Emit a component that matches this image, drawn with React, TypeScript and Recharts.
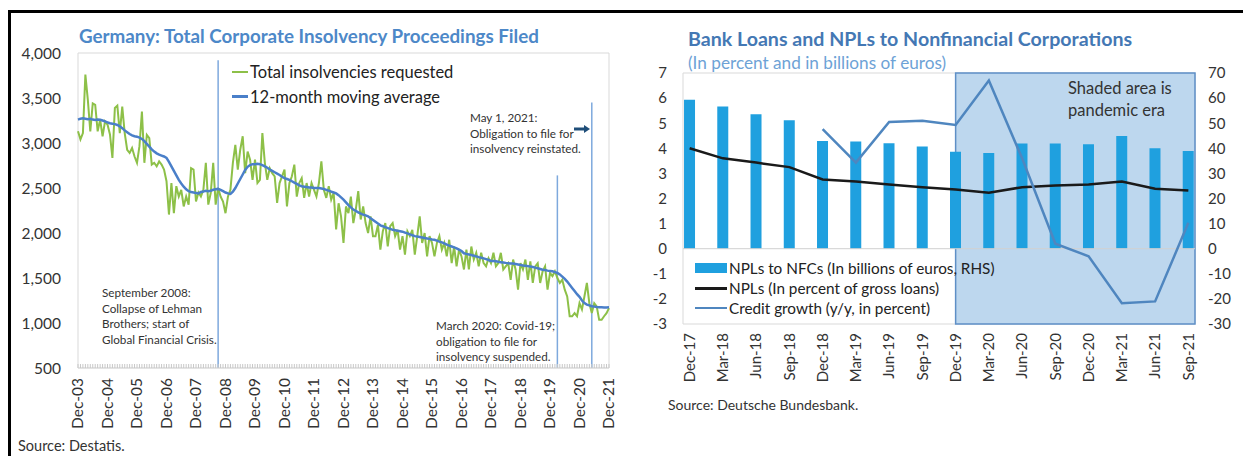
import React from "react";
import {
  Bar,
  ComposedChart,
  Line,
  LineChart,
  ReferenceArea,
  ReferenceLine,
  XAxis,
  YAxis,
} from "recharts";

const FONT = "Lato, 'Noto Sans', sans-serif";

// ---- left chart: insolvencies (monthly, Dec-03 .. Dec-21) ----
const insolvencyTickLabels = [
  "Dec-03", "Dec-04", "Dec-05", "Dec-06", "Dec-07", "Dec-08", "Dec-09", "Dec-10", "Dec-11", "Dec-12",
  "Dec-13", "Dec-14", "Dec-15", "Dec-16", "Dec-17", "Dec-18", "Dec-19", "Dec-20", "Dec-21",
];
const insolvencyTicks = [0, 12, 24, 36, 48, 60, 72, 84, 96, 108, 120, 132, 144, 156, 168, 180, 192, 204, 216];
const insolvencyAxisTicks = [500, 1000, 1500, 2000, 2500, 3000, 3500, 4000];

const insolvenciesRequested = [
  3130,
  3040, 3110, 3760, 3480, 3130, 3440, 3425, 3130, 3260, 3075, 3240, 3205, // 2004
  3095, 2835, 3390, 3415, 3110, 3405, 3110, 2925, 2890, 2945, 2850, 2780, // 2005
  2965, 3350, 2780, 3090, 3055, 2760, 2780, 2740, 2795, 2760, 2705, 2575, // 2006
  2205, 2555, 2220, 2520, 2405, 2480, 2295, 2405, 2315, 2720, 2705, 2350, // 2007
  2450, 2405, 2480, 2780, 2315, 2445, 2780, 2315, 2500, 2405, 2350, 2220, // 2008
  2405, 2480, 2780, 2980, 2705, 2925, 3075, 2665, 2905, 2815, 2590, 2815, // 2009
  2555, 2590, 3110, 2780, 2590, 2720, 2665, 2630, 2335, 2555, 2630, 2705, // 2010
  2295, 2555, 2630, 2760, 2405, 2555, 2610, 2390, 2555, 2405, 2555, 2480, // 2011
  2405, 2555, 2795, 2480, 2390, 2520, 2370, 2445, 2040, 2330, 2185, 1890, // 2012
  2295, 2220, 2405, 2110, 2260, 2465, 2150, 2295, 2110, 2000, 2185, 1965, // 2013
  1965, 2090, 1815, 2020, 2110, 1850, 2075, 2110, 1965, 2035, 1815, 1965, // 2014
  1760, 2020, 1965, 2035, 1760, 1965, 2185, 1890, 2000, 1740, 1965, 1890, // 2015
  1740, 1890, 1965, 1815, 1890, 1740, 1925, 1665, 1850, 1630, 1815, 1740, // 2016
  1595, 1815, 1595, 1850, 1705, 1780, 1630, 1780, 1665, 1630, 1720, 1665, // 2017
  1780, 1630, 1665, 1780, 1595, 1630, 1665, 1480, 1705, 1595, 1370, 1665, // 2018
  1595, 1705, 1480, 1685, 1445, 1630, 1665, 1445, 1575, 1630, 1370, 1555, // 2019
  1520, 1575, 1500, 1445, 1480, 1370, 1295, 1075, 1075, 1110, 1075, 1220, // 2020
  1150, 1295, 1445, 1220, 1110, 1220, 1185, 1035, 1035, 1075, 1110, 1165, // 2021
];

const movingAverage = [
  3260,
  3270, 3275, 3270, 3265, 3268, 3260, 3255, 3262, 3258, 3250, 3240, 3230,
  3220, 3215, 3210, 3200, 3185, 3165, 3140, 3120, 3100, 3085, 3075, 3070,
  3060, 3045, 3020, 2990, 2960, 2930, 2905, 2885, 2870, 2860, 2850, 2835,
  2790, 2740, 2690, 2640, 2590, 2550, 2515, 2485, 2465, 2455, 2450, 2445,
  2440, 2455, 2460, 2470, 2465, 2470, 2480, 2485, 2490, 2480, 2465, 2450,
  2440, 2435, 2460, 2500, 2550, 2600, 2650, 2700, 2735, 2755, 2765, 2765,
  2768, 2765, 2755, 2740, 2725, 2705, 2690, 2675, 2660, 2645, 2625, 2610,
  2600, 2590, 2575, 2560, 2545, 2530, 2520, 2515, 2510, 2505, 2505, 2500,
  2500, 2500, 2495, 2490, 2480, 2470, 2460, 2450, 2440, 2420, 2395, 2370,
  2340, 2310, 2285, 2260, 2245, 2230, 2215, 2205, 2195, 2185, 2165, 2145,
  2125, 2105, 2085, 2075, 2065, 2055, 2045, 2035, 2030, 2025, 2020, 2015,
  2005, 1995, 1985, 1975, 1965, 1960, 1955, 1950, 1945, 1940, 1935, 1928,
  1925, 1915, 1905, 1895, 1885, 1870, 1860, 1850, 1840, 1830, 1815, 1800,
  1775, 1768, 1762, 1755, 1748, 1740, 1732, 1725, 1718, 1710, 1700, 1690,
  1688, 1685, 1680, 1676, 1672, 1668, 1665, 1662, 1660, 1655, 1650, 1645,
  1640, 1636, 1632, 1628, 1622, 1615, 1608, 1600, 1592, 1588, 1582, 1578,
  1574, 1565, 1556, 1540, 1515, 1490, 1460, 1425, 1390, 1355, 1320, 1290,
  1250, 1222, 1205, 1195, 1185, 1182, 1178, 1175, 1174, 1173, 1173, 1174,
];

// event markers: month index and top of the marker line
const eventMarkers = [
  { month: 57, top: 3920 }, // Sep 2008
  { month: 195, top: 2640 }, // Mar 2020
  { month: 209, top: 3450 }, // May 2021
];

// ---- right chart: bank loans and NPLs (quarterly) ----
const quarters = [
  "Dec-17", "Mar-18", "Jun-18", "Sep-18", "Dec-18", "Mar-19", "Jun-19", "Sep-19",
  "Dec-19", "Mar-20", "Jun-20", "Sep-20", "Dec-20", "Mar-21", "Jun-21", "Sep-21",
];
const nplBillions = [59.3, 56.7, 53.6, 51.2, 42.9, 42.7, 42.0, 40.7, 38.6, 38.1, 41.9, 41.9, 41.6, 44.9, 40.0, 38.9];
const nplPercent = [4.0, 3.6, 3.43, 3.25, 2.76, 2.68, 2.56, 2.45, 2.36, 2.23, 2.45, 2.52, 2.56, 2.68, 2.39, 2.32];
const creditGrowth = [null, null, null, null, 47.6, 34.3, 50.5, 51.0, 49.3, 67.0, 36.0, 2.0, -3.0, -21.7, -21.0, 10.3];
const leftAxisTicks = [-3, -2, -1, 0, 1, 2, 3, 4, 5, 6, 7];
const rightAxisTicks = [-30, -20, -10, 0, 10, 20, 30, 40, 50, 60, 70];

const insolvencyData = insolvenciesRequested.map((v, i) => ({ i, total: v, avg: movingAverage[i] }));
const monthTicks = insolvenciesRequested.map((_, i) => i);
const bankData = quarters.map((q, i) => ({
  i,
  q,
  npl: nplBillions[i],
  pct: nplPercent[i],
  credit: creditGrowth[i],
}));

const GREEN = "#8dc048";
const MA_BLUE = "#4a7fc9";
const BAR_BLUE = "#1fa0df";
const CREDIT_BLUE = "#4f86bf";

const InsolvencyTick = (props: any) => {
  const { x, payload } = props;
  const idx = insolvencyTicks.indexOf(payload.value);
  if (idx < 0) return <g />;
  return (
    <text
      transform={`translate(${x},378) rotate(-90)`}
      textAnchor="end"
      dy="0.35em"
      fontSize={15.5}
      fill="#333"
      fontFamily={FONT}
    >
      {insolvencyTickLabels[idx]}
    </text>
  );
};

const QuarterTick = (props: any) => {
  const { x, payload } = props;
  return (
    <text
      transform={`translate(${x},333) rotate(-90)`}
      textAnchor="end"
      dy="0.35em"
      fontSize={15}
      fill="#333"
      fontFamily={FONT}
    >
      {quarters[payload.value]}
    </text>
  );
};

const abs = (left: number, top: number, extra: React.CSSProperties = {}): React.CSSProperties => ({
  position: "absolute",
  left,
  top,
  whiteSpace: "nowrap",
  ...extra,
});

const note: React.CSSProperties = { fontSize: 11.7, lineHeight: "15.5px", color: "#333" };

const InsolvencyChart = () => (
  <div style={abs(0, 0, { width: 620, height: 456 })}>
    <LineChart
      width={620}
      height={456}
      data={insolvencyData}
      margin={{ top: 53, right: 11, bottom: 58, left: 0 }}
    >
      <XAxis
        dataKey="i"
        type="number"
        domain={[0, 216]}
        ticks={monthTicks}
        interval={0}
        tick={<InsolvencyTick />}
        tickSize={-4}
        tickLine={{ stroke: "#c8c8c8" }}
        axisLine={{ stroke: "#d9d9d9" }}
        height={30}
      />
      <YAxis
        domain={[500, 4000]}
        ticks={insolvencyAxisTicks}
        width={78}
        tickLine={false}
        axisLine={false}
        tickSize={0}
        tickMargin={17}
        tick={{ fontSize: 15.5, fill: "#333", fontFamily: FONT }}
        tickFormatter={(v: number) => v.toLocaleString("en-US")}
      />
      <ReferenceArea
        x1={0}
        x2={216}
        y1={500}
        y2={4000}
        fill="none"
        fillOpacity={0}
        stroke="#d9d9d9"
        ifOverflow="visible"
      />
      {eventMarkers.map((m) => (
        <ReferenceLine
          key={m.month}
          segment={[
            { x: m.month, y: m.top },
            { x: m.month, y: 500 },
          ]}
          stroke="#7ea9dd"
          strokeWidth={1.5}
        />
      ))}
      <Line
        dataKey="total"
        stroke={GREEN}
        strokeWidth={2}
        dot={false}
        type="linear"
        isAnimationActive={false}
      />
      <Line
        dataKey="avg"
        stroke={MA_BLUE}
        strokeWidth={2.5}
        dot={false}
        type="linear"
        isAnimationActive={false}
      />
    </LineChart>

    <div style={abs(79, 24, { fontSize: 18.8, fontWeight: 700, color: "#4d88c8" })}>
      Germany: Total Corporate Insolvency Proceedings Filed
    </div>

    <div style={abs(232, 61, { fontSize: 16.5, color: "#222" })}>
      <div style={{ display: "flex", alignItems: "center", height: 22 }}>
        <span style={{ width: 16, height: 2, background: GREEN, display: "inline-block", marginRight: 2 }} />
        Total insolvencies requested
      </div>
      <div style={{ display: "flex", alignItems: "center", height: 27 }}>
        <span style={{ width: 16, height: 2.5, background: MA_BLUE, display: "inline-block", marginRight: 2 }} />
        12-month moving average
      </div>
    </div>

    <div style={abs(470, 110, note)}>
      May 1, 2021:
      <br />
      Obligation to file for
      <br />
      insolvency reinstated.
    </div>
    <svg style={abs(573, 123)} width={18} height={12}>
      <line x1={1} y1={6} x2={12} y2={6} stroke="#1f4e79" strokeWidth={3} />
      <polygon points="11,2 17,6 11,10" fill="#1f4e79" />
    </svg>

    <div style={abs(102, 285, note)}>
      September 2008:
      <br />
      Collapse of Lehman
      <br />
      Brothers; start of
      <br />
      Global Financial Crisis.
    </div>

    <div style={abs(436, 318, note)}>
      March 2020: Covid-19;
      <br />
      obligation to file for
      <br />
      insolvency suspended.
    </div>

    <div style={abs(18, 437, { fontSize: 14.5, color: "#333" })}>Source: Destatis.</div>
  </div>
);

const BankChart = () => (
  <div style={abs(620, 0, { width: 623, height: 456 })}>
    <ComposedChart
      width={623}
      height={456}
      data={bankData}
      margin={{ top: 73, right: 0, bottom: 102, left: 0 }}
    >
      <XAxis
        dataKey="i"
        type="number"
        domain={[-0.2, 15.2]}
        ticks={quarters.map((_, i) => i)}
        interval={0}
        allowDataOverflow
        tick={<QuarterTick />}
        tickLine={false}
        axisLine={false}
        height={30}
      />
      <YAxis
        yAxisId="left"
        domain={[-3, 7]}
        ticks={leftAxisTicks}
        width={63}
        tickLine={false}
        axisLine={false}
        tickSize={0}
        tickMargin={16}
        tick={{ fontSize: 15, fill: "#333", fontFamily: FONT }}
      />
      <YAxis
        yAxisId="right"
        orientation="right"
        domain={[-30, 70]}
        ticks={rightAxisTicks}
        width={48}
        tickLine={false}
        axisLine={false}
        tickSize={0}
        tickMargin={13}
        tick={{ fontSize: 15, fill: "#333", fontFamily: FONT }}
      />
      <ReferenceArea
        yAxisId="left"
        x1={-0.2}
        x2={15.2}
        y1={-3}
        y2={7}
        fill="none"
        fillOpacity={0}
        stroke="#d9d9d9"
        ifOverflow="visible"
      />
      <ReferenceLine yAxisId="left" y={0} stroke="#d0d0d0" />
      <ReferenceArea
        yAxisId="left"
        x1={8}
        x2={15.2}
        y1={-3}
        y2={7}
        fill="#bdd7ee"
        fillOpacity={1}
        stroke="#5e8fc6"
        strokeWidth={1.5}
        ifOverflow="visible"
      />
      <Bar yAxisId="right" dataKey="npl" fill={BAR_BLUE} barSize={11} isAnimationActive={false} />
      <Line
        yAxisId="left"
        dataKey="pct"
        stroke="#1a1a1a"
        strokeWidth={2.5}
        dot={false}
        type="linear"
        isAnimationActive={false}
      />
      <Line
        yAxisId="right"
        dataKey="credit"
        stroke={CREDIT_BLUE}
        strokeWidth={2.5}
        dot={false}
        type="linear"
        isAnimationActive={false}
      />
    </ComposedChart>

    <div style={abs(68, 27, { fontSize: 19.6, fontWeight: 700, color: "#4478b4" })}>
      Bank Loans and NPLs to Nonfinancial Corporations
    </div>
    <div style={abs(68, 52, { fontSize: 17.2, color: "#6da2d6" })}>
      (In percent and in billions of euros)
    </div>

    <div style={abs(448, 77, { fontSize: 16.5, lineHeight: "22px", color: "#333" })}>
      Shaded area is
      <br />
      pandemic era
    </div>

    <div style={abs(75, 258, { fontSize: 15.3, color: "#222" })}>
      <div style={{ display: "flex", alignItems: "center", height: 20 }}>
        <span style={{ width: 32, height: 10, background: BAR_BLUE, display: "inline-block", marginRight: 2 }} />
        NPLs to NFCs (In billions of euros, RHS)
      </div>
      <div style={{ display: "flex", alignItems: "center", height: 20 }}>
        <span style={{ width: 32, height: 3, background: "#1a1a1a", display: "inline-block", marginRight: 2 }} />
        NPLs (In percent of gross loans)
      </div>
      <div style={{ display: "flex", alignItems: "center", height: 20 }}>
        <span style={{ width: 32, height: 2.5, background: CREDIT_BLUE, display: "inline-block", marginRight: 2 }} />
        Credit growth (y/y, in percent)
      </div>
    </div>

    <div style={abs(48, 396, { fontSize: 14, color: "#333" })}>Source: Deutsche Bundesbank.</div>
  </div>
);

export default function App() {
  return (
    <div
      style={{
        position: "fixed",
        left: 0,
        top: 0,
        width: 1243,
        height: 456,
        background: "#fff",
        overflow: "hidden",
        fontFamily: FONT,
      }}
    >
      <div style={abs(8, 10, { width: 1235, height: 3, background: "#000" })} />
      <div style={abs(8, 10, { width: 3, height: 446, background: "#000" })} />
      <InsolvencyChart />
      <BankChart />
    </div>
  );
}
